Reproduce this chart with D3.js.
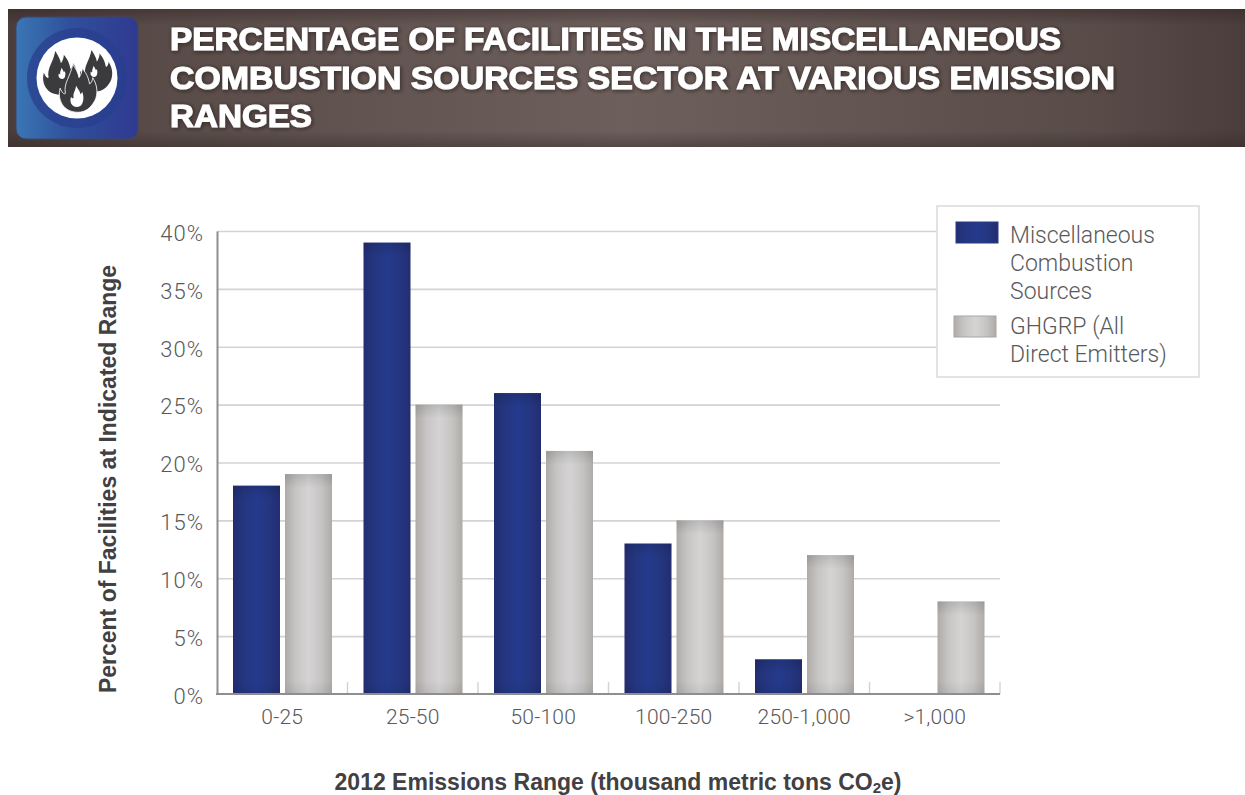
<!DOCTYPE html>
<html>
<head>
<meta charset="utf-8">
<script src="https://cdn.jsdelivr.net/npm/d3@7"></script>
<style>
html,body{margin:0;padding:0;background:#fff;}
svg{display:block;}
text{font-family:"Liberation Sans",Arial,sans-serif;}
.light{font-family:Roboto,"Liberation Sans",sans-serif;font-weight:300;}
</style>
</head>
<body>
<svg id="chart" width="1245" height="795"></svg>
<script>
const categories = ["0-25","25-50","50-100","100-250","250-1,000",">1,000"];
const seriesNames = ["Miscellaneous Combustion Sources","GHGRP (All Direct Emitters)"];
const miscValues = [18,39,26,13,3,0];
const ghgrpValues = [19,25,21,15,12,8];
const yTicks = [0,5,10,15,20,25,30,35,40];
const titleLines = ["PERCENTAGE OF FACILITIES IN THE MISCELLANEOUS","COMBUSTION SOURCES SECTOR AT VARIOUS EMISSION","RANGES"];
const legendLabels = [["Miscellaneous","Combustion","Sources"],["GHGRP (All","Direct Emitters)"]];

const svg = d3.select("#chart");
const defs = svg.append("defs");

function hGrad(id, stops){
  const g = defs.append("linearGradient").attr("id",id).attr("x1",0).attr("x2",1).attr("y1",0).attr("y2",0);
  stops.forEach(s=>g.append("stop").attr("offset",s[0]).attr("stop-color",s[1]).attr("stop-opacity",s[2]===undefined?1:s[2]));
}
function vGrad(id, stops){
  const g = defs.append("linearGradient").attr("id",id).attr("x1",0).attr("x2",0).attr("y1",0).attr("y2",1);
  stops.forEach(s=>g.append("stop").attr("offset",s[0]).attr("stop-color",s[1]).attr("stop-opacity",s[2]===undefined?1:s[2]));
}
hGrad("blueBar",[[0,"#232d72"],[0.22,"#24367f"],[0.5,"#243a8c"],[0.78,"#24367f"],[1,"#232d72"]]);
hGrad("greyBar",[[0,"#aeaba8"],[0.22,"#c6c4c3"],[0.5,"#d5d4d4"],[0.78,"#c6c4c3"],[1,"#aeaba8"]]);
hGrad("bandH",[[0,"#4a3d3b"],[0.12,"#584b48"],[0.5,"#6d5f5c"],[0.88,"#584b48"],[1,"#4a3d3b"]]);
vGrad("bandV",[[0,"#2f2423",0.45],[0.12,"#2f2423",0],[0.88,"#2f2423",0],[1,"#2f2423",0.4]]);
hGrad("iconBg",[[0,"#3a76b4"],[0.45,"#2f4f9c"],[1,"#2f3a90"]]);
vGrad("shadeTop",[[0,"#000",0.12],[1,"#000",0]]);
vGrad("shadeBottom",[[0,"#000",0],[1,"#000",0.07]]);

const soft = defs.append("filter").attr("id","soft").attr("x","-5%").attr("y","-20%").attr("width","110%").attr("height","140%");
soft.append("feGaussianBlur").attr("in","SourceAlpha").attr("stdDeviation",2).attr("result","b");
soft.append("feOffset").attr("in","b").attr("dx",1).attr("dy",1).attr("result","o");
soft.append("feFlood").attr("flood-color","#1e1514").attr("flood-opacity",0.7);
soft.append("feComposite").attr("in2","o").attr("operator","in").attr("result","s");
const m = soft.append("feMerge");
m.append("feMergeNode").attr("in","s");
m.append("feMergeNode").attr("in","SourceGraphic");

// Header band
svg.append("rect").attr("x",8).attr("y",9).attr("width",1237).attr("height",138).attr("fill","url(#bandH)");
svg.append("rect").attr("x",8).attr("y",9).attr("width",1237).attr("height",138).attr("fill","url(#bandV)");

// Icon
const icon = svg.append("g");
icon.append("rect").attr("x",16).attr("y",17).attr("width",122).attr("height",122).attr("rx",10).attr("fill","url(#iconBg)").attr("stroke","#3f4668").attr("stroke-width",1);
icon.append("circle").attr("cx",77).attr("cy",78).attr("r",50).attr("fill","#2a3f8e").attr("opacity",0.75);
icon.append("circle").attr("cx",77).attr("cy",78).attr("r",40.5).attr("fill","#ffffff");
const flame = "M0,26 C-14,26 -20,14 -17,3 C-15,8 -13,9 -12,8 C-14,-2 -7,-8 -5,-20 C-2,-15 0,-12 1,-7 C3,-10 4,-13 4,-16 C9,-10 10,-6 11,-1 C13,-2 14,-5 14,-7 C19,1 19,9 16,15 C12,22 7,26 0,26 Z";
const flameInner = "M0,20 C-7,20 -9,13 -7,8 C-6,10 -5,10 -4,9 C-5,4 -2,1 -1,-5 C1,-1 4,2 4,5 C5,4 6,3 6,2 C9,8 8,20 0,20 Z";
[[60,70,0.95,62,70],[96,68,0.9,94,68]].forEach(t=>{
  icon.append("path").attr("d",flame).attr("fill","#3b3b3d").attr("transform",`translate(${t[0]},${t[1]}) scale(${t[2]})`);
  icon.append("path").attr("d",flameInner).attr("fill","#ffffff").attr("transform",`translate(${t[3]},${t[4]}) scale(0.45)`);
});
icon.append("path").attr("d",flame).attr("fill","#3b3b3d").attr("stroke","#ffffff").attr("stroke-width",0.8).attr("transform","translate(78,85) scale(1.05)");
icon.append("path").attr("d",flameInner).attr("fill","#ffffff").attr("transform","translate(77,90) scale(0.85)");

// Title
const titleWidths = [891,945,142];
svg.append("g").selectAll("text").data(titleLines).join("text")
  .attr("x",170).attr("y",(d,i)=>50+i*38.5)
  .attr("font-size",31).attr("font-weight",700).attr("fill","#ffffff")
  .attr("stroke","#ffffff").attr("stroke-width",1.1)
  .attr("textLength",(d,i)=>titleWidths[i]).attr("lengthAdjust","spacingAndGlyphs")
  .attr("filter","url(#soft)")
  .text(d=>d);

// Scales
const x0 = d3.scaleBand().domain(categories).range([217,1000]);
const x1 = d3.scaleBand().domain(seriesNames).range([16,115]).paddingInner(5/52);
const y = d3.scaleLinear().domain([0,40]).range([694,231]);

// Gridlines
svg.append("g").attr("transform","translate(217,0)")
  .call(d3.axisLeft(y).tickValues(yTicks.filter(d=>d>0)).tickSize(-783).tickFormat(""))
  .call(g=>g.select(".domain").remove())
  .call(g=>g.selectAll("line").attr("stroke","#d4d3d3").attr("stroke-width",1.6));

// Bars
const rows = categories.map((c,i)=>({c, vals:[miscValues[i],ghgrpValues[i]]}));
const groups = svg.append("g").selectAll("g").data(rows).join("g").attr("transform",d=>`translate(${x0(d.c)},0)`);
const cells = d=>d.vals.map((v,i)=>({v,s:seriesNames[i],i})).filter(e=>e.v>0);
groups.selectAll("rect.bar").data(cells).join("rect")
  .attr("class","bar")
  .attr("x",d=>x1(d.s)).attr("width",x1.bandwidth())
  .attr("y",d=>y(d.v)).attr("height",d=>y(0)-y(d.v))
  .attr("fill",d=>d.i===0?"url(#blueBar)":"url(#greyBar)");
groups.selectAll("rect.top").data(cells).join("rect")
  .attr("class","top")
  .attr("x",d=>x1(d.s)).attr("width",x1.bandwidth())
  .attr("y",d=>y(d.v)).attr("height",14)
  .attr("fill","url(#shadeTop)");
groups.selectAll("rect.bot").data(cells).join("rect")
  .attr("class","bot")
  .attr("x",d=>x1(d.s)).attr("width",x1.bandwidth())
  .attr("y",y(0)-14).attr("height",14)
  .attr("fill","url(#shadeBottom)");

// Y axis
const yAxis = svg.append("g").attr("transform","translate(217,0)")
  .call(d3.axisLeft(y).tickValues(yTicks).tickSize(0).tickPadding(13).tickFormat(d=>d+"%"));
yAxis.select(".domain").attr("stroke","#8e8e8e").attr("stroke-width",2);
yAxis.selectAll("text").attr("class","light").attr("font-size",22).attr("font-family",null).attr("letter-spacing",1).attr("fill","#58595b").attr("dy","0.42em");

// X axis: baseline and boundary ticks
const boundaries = categories.map(c=>x0(c)+x0.step());
const xBase = svg.append("g").attr("transform",`translate(0,${y(0)})`);
xBase.selectAll("line.t").data(boundaries).join("line").attr("class","t")
  .attr("x1",d=>d).attr("x2",d=>d).attr("y1",0).attr("y2",-12)
  .attr("stroke","#d4d3d3").attr("stroke-width",1.4);
xBase.append("line").attr("x1",216).attr("x2",1000).attr("y1",0).attr("y2",0).attr("stroke","#8e8e8e").attr("stroke-width",2);
xBase.selectAll("text").data(categories).join("text")
  .attr("class","light")
  .attr("x",d=>x0(d)+x0.bandwidth()/2).attr("y",30)
  .attr("text-anchor","middle").attr("font-size",21).attr("letter-spacing",0.2).attr("fill","#58595b").text(d=>d);

// Axis titles
svg.append("text").attr("transform","translate(116,479) rotate(-90)")
  .attr("text-anchor","middle").attr("font-size",23).attr("font-weight",700).attr("fill","#414042")
  .text("Percent of Facilities at Indicated Range");
const xt = svg.append("text").attr("x",618).attr("y",790).attr("text-anchor","middle")
  .attr("font-size",23).attr("font-weight",700).attr("fill","#414042");
xt.append("tspan").text("2012 Emissions Range (thousand  metric tons CO");
xt.append("tspan").attr("font-size",15).attr("dy",3).text("2");
xt.append("tspan").attr("dy",-3).text("e)");

// Legend
const legend = svg.append("g");
legend.append("rect").attr("x",937).attr("y",206).attr("width",262).attr("height",171).attr("fill","#ffffff").attr("stroke","#dcdcdc").attr("stroke-width",1.6);
const legendTop = [222,316];
legend.selectAll("rect.sw").data(seriesNames).join("rect").attr("class","sw")
  .attr("x",(d,i)=>i===0?956:954).attr("y",(d,i)=>legendTop[i]).attr("width",42).attr("height",21)
  .attr("fill",(d,i)=>i===0?"url(#blueBar)":"url(#greyBar)")
  .attr("stroke",(d,i)=>i===0?"#2b3a80":"#a9a6a3").attr("stroke-width",1);
const legendY = [243,334];
legendLabels.forEach((lines,k)=>{
  legend.append("g").selectAll("text").data(lines).join("text")
    .attr("class","light")
    .attr("x",1010).attr("y",(d,i)=>legendY[k]+i*28)
    .attr("font-size",23).attr("fill","#58595b").text(d=>d);
});
</script>
</body>
</html>
